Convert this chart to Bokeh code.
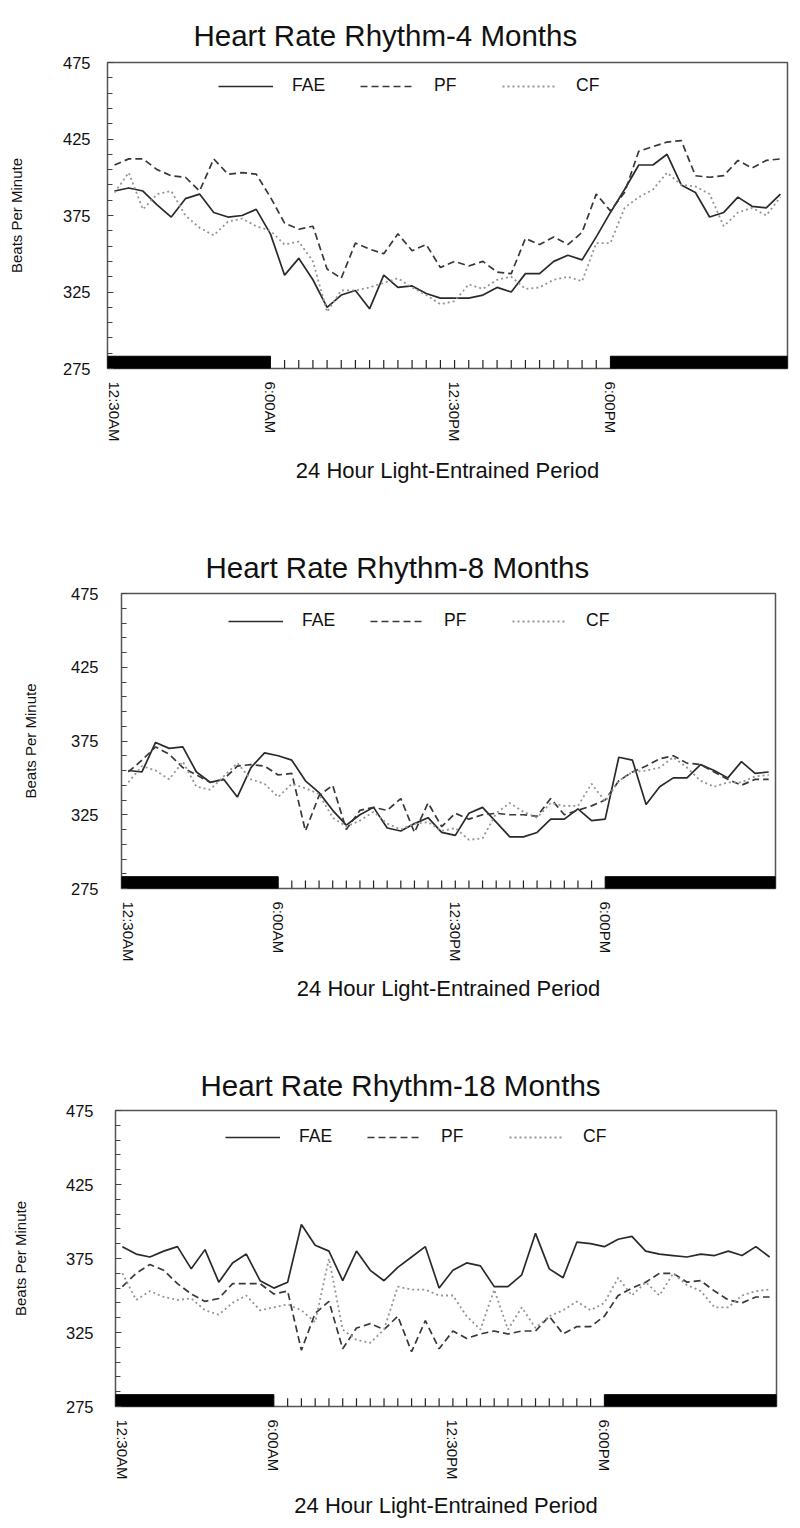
from bokeh.plotting import figure
from bokeh.models import Range1d, FixedTicker, Legend, LegendItem, Title
from bokeh.embed import file_html
from bokeh.resources import INLINE

# ---------------- data ----------------
HOURS = [0.5 * k for k in range(1, 49)]          # 12:30AM ... 12:00AM, half-hour bins
TICK_HOURS = [0.5, 6.0, 12.5, 18.0]
TICK_LABELS = ["12:30AM", "6:00AM", "12:30PM", "6:00PM"]
Y_TICKS = [275, 325, 375, 425, 475]
Y_MINOR = list(range(275, 476, 10))
DARK_START = [0.25, 18.0]
DARK_END = [6.0, 24.25]
LIGHT_MARKS = [6.5 + 0.5 * k for k in range(23)]

TITLES = ["Heart Rate Rhythm-4 Months", "Heart Rate Rhythm-8 Months", "Heart Rate Rhythm-18 Months"]
SERIES = ["FAE", "PF", "CF"]

FAE_4 = [391, 393, 391, 382, 374, 386, 389, 377, 374, 375, 379, 363, 336, 347, 333, 315,
         323, 326, 314, 336, 328, 329, 324, 321, 321, 321, 323, 328, 325, 337, 337, 345,
         349, 346, 361, 377, 392, 408, 408, 415, 395, 390, 374, 377, 387, 381, 380, 389]
PF_4 = [408, 412, 412, 405, 401, 400, 391, 412, 402, 403, 402, 387, 370, 366, 368, 340,
        334, 357, 353, 350, 363, 352, 356, 341, 345, 342, 345, 338, 337, 360, 356, 361,
        356, 364, 389, 378, 390, 417, 420, 423, 424, 401, 400, 401, 411, 406, 411, 412]
CF_4 = [390, 403, 379, 389, 391, 375, 367, 362, 371, 373, 368, 365, 356, 358, 345, 312,
        326, 326, 328, 331, 334, 328, 323, 317, 319, 330, 327, 333, 335, 327, 328, 333,
        335, 332, 357, 357, 380, 387, 392, 403, 395, 394, 389, 368, 377, 380, 375, 387]

FAE_8 = [355, 354, 374, 370, 371, 354, 347, 349, 337, 357, 367, 365, 362, 348, 340, 328,
         318, 325, 330, 316, 314, 319, 323, 313, 311, 326, 330, 320, 310, 310, 313, 322,
         322, 329, 321, 322, 364, 362, 332, 344, 350, 350, 359, 355, 350, 361, 353, 354]
PF_8 = [354, 362, 371, 366, 357, 352, 347, 349, 358, 359, 358, 352, 353, 314, 338, 345,
        315, 328, 330, 328, 336, 313, 333, 317, 326, 322, 325, 326, 325, 325, 324, 336,
        325, 328, 331, 335, 348, 354, 358, 363, 365, 360, 359, 354, 349, 345, 349, 349]
CF_8 = [347, 358, 355, 349, 361, 344, 342, 351, 360, 349, 346, 337, 346, 343, 339, 323,
        317, 321, 327, 319, 315, 319, 320, 314, 316, 308, 309, 326, 333, 327, 323, 333,
        331, 331, 346, 334, 348, 354, 355, 357, 364, 357, 348, 344, 347, 347, 351, 352]

FAE_18 = [383, 378, 376, 380, 383, 368, 381, 359, 372, 378, 360, 355, 359, 398, 384, 380,
          360, 380, 367, 360, 369, 376, 383, 355, 367, 372, 370, 356, 356, 364, 392, 368,
          362, 386, 385, 383, 388, 390, 380, 378, 377, 376, 378, 377, 380, 377, 383, 376]
PF_18 = [356, 365, 371, 367, 358, 351, 346, 348, 358, 358, 358, 351, 353, 313, 338, 346,
         314, 328, 331, 327, 336, 312, 333, 314, 326, 321, 324, 326, 324, 326, 326, 336,
         324, 329, 329, 336, 350, 355, 359, 365, 365, 359, 360, 353, 347, 345, 349, 349]
CF_18 = [365, 347, 353, 349, 347, 348, 340, 337, 345, 350, 340, 342, 344, 340, 332, 375,
         327, 320, 318, 327, 356, 354, 354, 350, 350, 336, 327, 354, 327, 342, 328, 336,
         340, 346, 340, 345, 362, 350, 359, 350, 365, 357, 353, 342, 342, 350, 353, 354]

PANEL_DATA = [(FAE_4, PF_4, CF_4), (FAE_8, PF_8, CF_8), (FAE_18, PF_18, CF_18)]

# ---------------- layout / style ----------------
FONT = "Liberation Sans"
INK = "#111111"
LAYOUT = [
    dict(h=500, bl=107, br=11, bt=62, bb=132, toff=86, tst=21, xlab_st=13,
         ylab_st=35, ytick_st=17, lx=111, ly=272),
    dict(h=520, bl=121, br=23, bt=93, bb=132, toff=84, tst=20, xlab_st=11,
         ylab_st=29, ytick_st=23, lx=107, ly=257),
    dict(h=500, bl=115, br=22, bt=90, bb=113, toff=85, tst=18, xlab_st=10,
         ylab_st=34, ytick_st=22, lx=110, ly=259),
]
STYLES = [
    dict(line_color="#2a2a2a", line_width=1.7),
    dict(line_color="#383838", line_width=1.7, line_dash="7 4"),
    dict(line_color="#959595", line_width=1.8, line_dash="2 3"),
]


def make_panel(title, series, cfg):
    p = figure(width=798, height=cfg["h"], x_range=Range1d(0.25, 24.25), y_range=Range1d(275, 475),
               output_backend="svg", toolbar_location=None,
               min_border_left=cfg["bl"], min_border_right=cfg["br"],
               min_border_top=cfg["bt"], min_border_bottom=cfg["bb"])
    p.title = Title(text=title, align="left", offset=cfg["toff"], standoff=cfg["tst"],
                    text_font=FONT, text_font_size="29.5px", text_font_style="normal",
                    text_color=INK)
    p.xgrid.visible = False
    p.ygrid.visible = False
    p.outline_line_color = "#555555"
    p.outline_line_width = 1.5

    xa = p.xaxis[0]
    xa.ticker = FixedTicker(ticks=TICK_HOURS)
    xa.major_label_overrides = {h: lab for h, lab in zip(TICK_HOURS, TICK_LABELS)}
    xa.major_label_orientation = "vertical"
    xa.major_tick_in = 0
    xa.major_tick_out = 0
    xa.minor_tick_in = 0
    xa.minor_tick_out = 0
    xa.axis_line_color = None
    xa.major_label_standoff = 13
    xa.major_label_text_font = FONT
    xa.major_label_text_font_size = "15px"
    xa.major_label_text_color = INK
    xa.axis_label = "24 Hour Light-Entrained Period"
    xa.axis_label_text_font = FONT
    xa.axis_label_text_font_size = "22px"
    xa.axis_label_text_font_style = "normal"
    xa.axis_label_text_color = INK
    xa.axis_label_standoff = cfg["xlab_st"]

    ya = p.yaxis[0]
    ya.ticker = FixedTicker(ticks=Y_TICKS, minor_ticks=Y_MINOR)
    ya.major_tick_in = 6
    ya.major_tick_out = 0
    ya.minor_tick_in = 5
    ya.minor_tick_out = 0
    ya.major_tick_line_color = "#444444"
    ya.minor_tick_line_color = "#444444"
    ya.axis_line_color = None
    ya.major_label_standoff = cfg["ytick_st"]
    ya.major_label_text_font = FONT
    ya.major_label_text_font_size = "16.5px"
    ya.major_label_text_color = INK
    ya.axis_label = "Beats Per Minute"
    ya.axis_label_text_font = FONT
    ya.axis_label_text_font_size = "15px"
    ya.axis_label_text_font_style = "normal"
    ya.axis_label_text_color = INK
    ya.axis_label_standoff = cfg["ylab_st"]

    # light / dark schedule bar
    p.quad(left=DARK_START, right=DARK_END, bottom=275, top=283,
           fill_color="black", line_color="black")
    p.segment(x0=LIGHT_MARKS, y0=275, x1=LIGHT_MARKS, y1=280.5,
              line_color="#222222", line_width=1.2)

    renderers = []
    for vals, st in zip(series, STYLES):
        renderers.append(p.line(HOURS, vals, **st))

    leg = Legend(items=[LegendItem(label=n, renderers=[r]) for n, r in zip(SERIES, renderers)],
                 orientation="horizontal", location=(cfg["lx"], cfg["ly"]),
                 border_line_color=None, background_fill_alpha=0,
                 glyph_width=55, glyph_height=20, label_height=20,
                 label_standoff=19, label_width=50, spacing=18,
                 padding=0, margin=0,
                 label_text_font=FONT, label_text_font_size="17.5px", label_text_color=INK)
    p.add_layout(leg)
    return p


panels = [make_panel(t, s, c) for t, s, c in zip(TITLES, PANEL_DATA, LAYOUT)]

open("out.html", "w").write(file_html(panels, INLINE, "Heart Rate Rhythm"))
